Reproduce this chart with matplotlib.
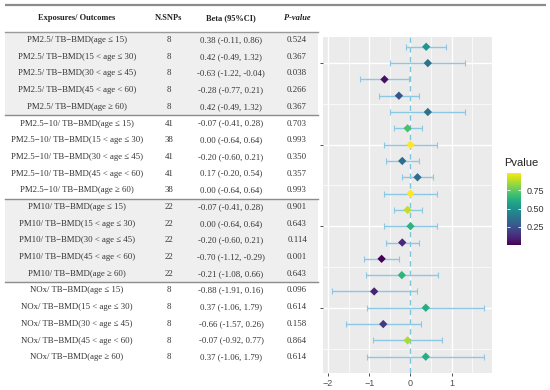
import matplotlib
matplotlib.use("Agg")
import matplotlib.pyplot as plt
import numpy as np
from matplotlib.cm import ScalarMappable
from matplotlib.colors import Normalize

# ---------------- data ----------------
exposures = ["PM2.5", "PM2.5\u221210", "PM10", "NOx"]
age_groups = ["age \u2264 15", "15 < age \u2264 30", "30 < age \u2264 45",
              "45 < age < 60", "age \u2265 60"]

n_snps = [8, 8, 8, 8, 8,
          41, 38, 41, 41, 38,
          22, 22, 22, 22, 22,
          8, 8, 8, 8, 8]
beta = [0.38, 0.42, -0.63, -0.28, 0.42,
        -0.07, 0.00, -0.20, 0.17, 0.00,
        -0.07, 0.00, -0.20, -0.70, -0.21,
        -0.88, 0.37, -0.66, -0.07, 0.37]
ci_low = [-0.11, -0.49, -1.22, -0.77, -0.49,
          -0.41, -0.64, -0.60, -0.20, -0.64,
          -0.41, -0.64, -0.60, -1.12, -1.08,
          -1.91, -1.06, -1.57, -0.92, -1.06]
ci_high = [0.86, 1.32, -0.04, 0.21, 1.32,
           0.28, 0.64, 0.21, 0.54, 0.64,
           0.28, 0.64, 0.21, -0.29, 0.66,
           0.16, 1.79, 0.26, 0.77, 1.79]
pvals = [0.524, 0.367, 0.038, 0.266, 0.367,
         0.703, 0.993, 0.350, 0.357, 0.993,
         0.901, 0.643, 0.114, 0.001, 0.643,
         0.096, 0.614, 0.158, 0.864, 0.614]
x_ticks = [-2, -1, 0, 1]
legend_ticks = [0.25, 0.50, 0.75]

labels = [f"{e}/ TB\u2212BMD({a})" for e in exposures for a in age_groups]

W, H = 550, 390
fig = plt.figure(figsize=(W / 100, H / 100), dpi=100)
fig.patch.set_facecolor("white")

serif = ["Liberation Serif", "DejaVu Serif"]
sans = ["Liberation Sans", "DejaVu Sans"]

# ---------------- table (pixel-coordinate axes) ----------------
tab = fig.add_axes([0, 0, 1, 1])
tab.set_xlim(0, W)
tab.set_ylim(H, 0)
tab.axis("off")

row0, dy = 40.0, 16.7
tab_left, tab_right = 5, 318
col_x = [77, 169, 231, 297]

# shaded groups (PM2.5 and PM10)
for g in (0, 2):
    top = 32 if g == 0 else row0 + dy * (5 * g - 0.5)
    bot = row0 + dy * (5 * g + 4.5)
    tab.fill_between([tab_left, tab_right], top, bot, color="#EFEFEF", lw=0, zorder=0)

tab.plot([5, 546], [4.5, 4.5], color="#8C8C8C", lw=1.6, solid_capstyle="butt")
tab.plot([tab_left, tab_right], [32, 32], color="#9A9A9A", lw=1.0)
for g in range(1, 4):
    yl = row0 + dy * (5 * g - 0.5)
    tab.plot([tab_left, tab_right], [yl, yl], color="#8C8C8C", lw=1.0)

hdr_y = 18
fs_h = 6.0
fs = 6.3
txt_col = "#333333"
tab.text(col_x[0], hdr_y, "Exposures/ Outcomes", ha="center", va="center",
         fontsize=fs_h, fontweight="bold", family=serif, color="#222222")
tab.text(col_x[1], hdr_y, "N.SNPs", ha="center", va="center",
         fontsize=fs_h, fontweight="bold", family=serif, color="#222222")
tab.text(col_x[2], hdr_y, "Beta (95%CI)", ha="center", va="center",
         fontsize=fs_h, fontweight="bold", family=serif, color="#222222")
tab.text(col_x[3], hdr_y, "P-value", ha="center", va="center",
         fontsize=fs_h, fontweight="bold", fontstyle="italic", family=serif,
         color="#222222")

for i in range(len(labels)):
    y = row0 + dy * i
    tab.text(col_x[0], y, labels[i], ha="center", va="center", fontsize=fs,
             family=serif, color=txt_col)
    tab.text(col_x[1], y, str(n_snps[i]), ha="center", va="center", fontsize=fs,
             family=serif, color=txt_col)
    tab.text(col_x[2], y, f"{beta[i]:.2f} ({ci_low[i]:.2f}, {ci_high[i]:.2f})",
             ha="center", va="center", fontsize=fs, family=serif, color=txt_col)
    tab.text(col_x[3], y, f"{pvals[i]:.3f}", ha="center", va="center", fontsize=fs,
             family=serif, color=txt_col)

# ---------------- forest plot ----------------
px0, px1, py0, py1 = 323, 492, 37, 373
ax = fig.add_axes([px0 / W, 1 - py1 / H, (px1 - px0) / W, (py1 - py0) / H])
ax.set_facecolor("#EBEBEB")
for s in ax.spines.values():
    s.set_visible(False)

ypos = np.arange(len(beta))
ax.set_xlim(-2.12, 1.975)
ax.set_ylim(20.0, -0.6)

# gridlines
ax.set_xticks(x_ticks)
ax.set_xticks([-1.5, -0.5, 0.5, 1.5], minor=True)
ax.set_yticks([1, 6, 11, 16])
ax.set_yticks([3.5, 8.5, 13.5, 18.5], minor=True)
ax.grid(which="major", color="white", lw=1.0)
ax.grid(which="minor", color="white", lw=0.5)
ax.set_axisbelow(True)
ax.set_yticklabels([])
ax.tick_params(axis="y", which="major", length=2.5, width=0.6, color="#333333")
ax.tick_params(axis="x", which="major", length=2.5, width=0.6, color="#333333",
               labelsize=6.5, labelcolor="#4D4D4D", pad=2)
ax.tick_params(which="minor", length=0)
for t in ax.get_xticklabels():
    t.set_family(sans)

ax.axvline(0, color="#7EC3DE", lw=1.0, ls=(0, (4, 3)), zorder=2)

err_lo = np.array(beta) - np.array(ci_low)
err_hi = np.array(ci_high) - np.array(beta)
ax.errorbar(beta, ypos, xerr=[err_lo, err_hi], fmt="none", ecolor="#8CC8E2",
            elinewidth=1.0, capsize=2.5, capthick=0.8, zorder=3)

cmap = plt.get_cmap("viridis")
norm = Normalize(vmin=min(pvals), vmax=max(pvals))
ax.scatter(beta, ypos, c=pvals, cmap=cmap, norm=norm, marker="D", s=18,
           edgecolors="none", zorder=4)

# ---------------- colour legend ----------------
cax = fig.add_axes([506.7 / W, 1 - 245 / H, 14 / W, 72.3 / H])
sm = ScalarMappable(norm=norm, cmap=cmap)
cb = fig.colorbar(sm, cax=cax, ticks=legend_ticks)
cb.outline.set_visible(False)
cb.ax.set_yticklabels([f"{t:.2f}" for t in legend_ticks])
cax.tick_params(axis="y", direction="in", length=2.5, width=0.6, color="white",
                left=True, right=True, labelsize=6.5, labelcolor="#333333", pad=4)
for t in cax.get_yticklabels():
    t.set_family(sans)
fig.text(504 / W, 1 - 163 / H, "Pvalue", ha="left", va="center", fontsize=8,
         family=sans, color="#222222")

fig.savefig("out.png", dpi=100, facecolor="white")
